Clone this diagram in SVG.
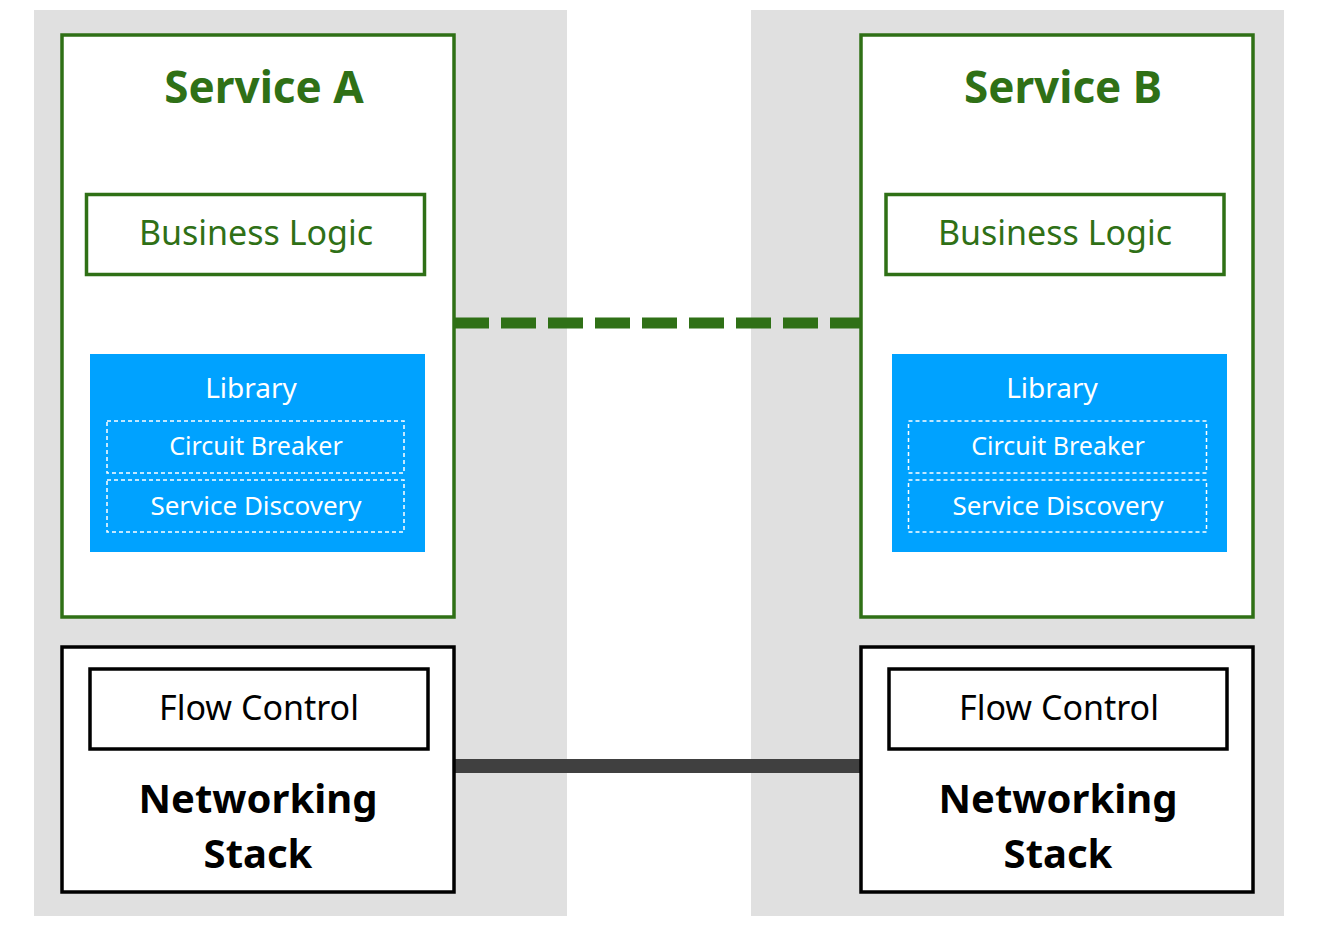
<svg xmlns="http://www.w3.org/2000/svg" width="1326" height="932" viewBox="0 0 1326 932">
<style>
.bg{fill:#e0e0e0}
.svc{fill:#fff;stroke:#2f7016;stroke-width:3.5}
.bl{fill:#fff;stroke:#2f7016;stroke-width:3.5}
.lib{fill:#00a2ff}
.dash{fill:none;stroke:#fff;stroke-width:1.5;stroke-dasharray:4 3}
.net{fill:#fff;stroke:#000;stroke-width:3.5}
text{font-family:"Noto Sans","Open Sans","DejaVu Sans",sans-serif;text-anchor:middle}
.title{font-size:44px;font-weight:bold;fill:#2f7016}
.blt{font-size:34px;fill:#2f7016}
.libt{font-size:28px;fill:#fff}
.sub{font-size:25px;fill:#fff}
.sub2{font-size:26px;fill:#fff}
.fc{font-size:34px;fill:#000}
.ns{font-size:40px;font-weight:bold;fill:#000}
</style>
<rect class="bg" x="34" y="10" width="533" height="906"/>
<rect class="bg" x="751" y="10" width="533" height="906"/>
<g id="connectors">
<line x1="454" y1="323" x2="861" y2="323" stroke="#2f7016" stroke-width="11" stroke-dasharray="35 12"/>
<line x1="454" y1="766" x2="861" y2="766" stroke="#404040" stroke-width="14"/>
</g>
<g id="serviceA">
<rect class="svc" x="62" y="35" width="392" height="582"/>
<text class="title" x="264" y="103">Service A</text>
</g>
<g id="businessLogicA">
<rect class="bl" x="86.5" y="194.5" width="338" height="80"/>
<text class="blt" x="256" y="245">Business Logic</text>
</g>
<g id="libraryA">
<rect class="lib" x="90" y="354" width="335" height="198"/>
<text class="libt" x="251" y="398">Library</text>
<rect class="dash" x="107" y="421" width="297" height="52"/>
<text class="sub" x="256" y="455">Circuit Breaker</text>
<rect class="dash" x="107" y="480" width="297" height="52"/>
<text class="sub2" x="256" y="515">Service Discovery</text>
</g>
<g id="networkA">
<rect class="net" x="62" y="647" width="392" height="245"/>
<rect class="net" x="90" y="669" width="338" height="80"/>
<text class="fc" x="259" y="720">Flow Control</text>
<text class="ns" x="258" y="813">Networking</text>
<text class="ns" x="258" y="868">Stack</text>
</g>
<g id="serviceB">
<rect class="svc" x="861" y="35" width="392" height="582"/>
<text class="title" x="1063" y="103">Service B</text>
</g>
<g id="businessLogicB">
<rect class="bl" x="886" y="194.5" width="338" height="80"/>
<text class="blt" x="1055" y="245">Business Logic</text>
</g>
<g id="libraryB">
<rect class="lib" x="892" y="354" width="335" height="198"/>
<text class="libt" x="1052" y="398">Library</text>
<rect class="dash" x="908.5" y="421" width="298" height="52"/>
<text class="sub" x="1058" y="455">Circuit Breaker</text>
<rect class="dash" x="908.5" y="480" width="298" height="52"/>
<text class="sub2" x="1058" y="515">Service Discovery</text>
</g>
<g id="networkB">
<rect class="net" x="861" y="647" width="392" height="245"/>
<rect class="net" x="889" y="669" width="338" height="80"/>
<text class="fc" x="1059" y="720">Flow Control</text>
<text class="ns" x="1058" y="813">Networking</text>
<text class="ns" x="1058" y="868">Stack</text>
</g>
</svg>
